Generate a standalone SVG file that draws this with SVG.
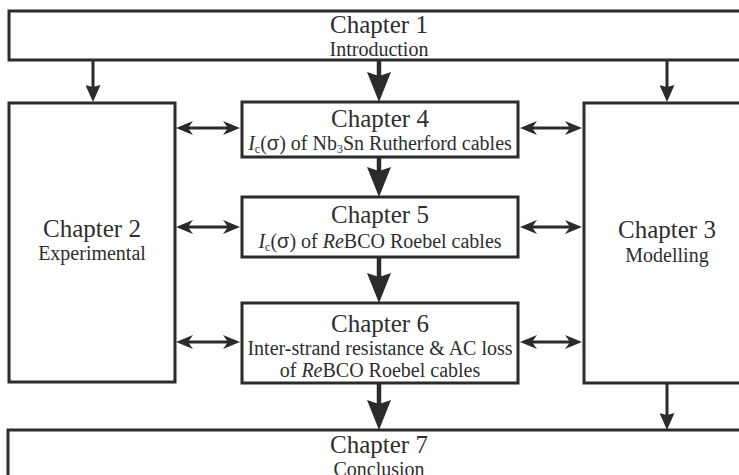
<svg xmlns="http://www.w3.org/2000/svg" width="739" height="475" viewBox="0 0 739 475">
<style>
.box{fill:#fff;stroke:#2b2b2b;stroke-width:3}
.t{font-family:"Liberation Serif","Times New Roman",serif;fill:#2e2e2e;text-anchor:middle}
.h{font-size:25px}
.s{font-size:20px}
.i{font-style:italic}
.g{font-family:"Liberation Sans",Arial,sans-serif}
.thick{stroke:#2b2b2b;stroke-width:4.5;fill:none}
.thin{stroke:#2b2b2b;stroke-width:3;fill:none}
</style>
<defs>
<marker id="big" markerUnits="userSpaceOnUse" viewBox="0 0 30 24" markerWidth="30" markerHeight="24" refX="4" refY="12" orient="auto">
<path d="M0,0 L30,12 L0,24 L4,12 z" fill="#2b2b2b"/>
</marker>
<marker id="small" markerUnits="userSpaceOnUse" viewBox="0 0 17 15" markerWidth="17" markerHeight="15" refX="3" refY="7.5" orient="auto">
<path d="M0,0 L17,7.5 L0,15 L2,7.5 z" fill="#2b2b2b"/>
</marker>
<marker id="bi" markerUnits="userSpaceOnUse" viewBox="0 0 17 14" markerWidth="17" markerHeight="14" refX="5" refY="7" orient="auto-start-reverse">
<path d="M0,0 L17,7 L0,14 L5,7 z" fill="#2b2b2b"/>
</marker>
</defs>
<rect width="739" height="475" fill="#fff"/>
<g id="connectors">
<line class="thin" x1="93" y1="61" x2="93" y2="88" marker-end="url(#small)"/>
<line class="thin" x1="667" y1="61" x2="667" y2="88" marker-end="url(#small)"/>
<line class="thin" x1="667" y1="384" x2="667" y2="416" marker-end="url(#small)"/>
<line class="thick" x1="379" y1="61" x2="379" y2="76" marker-end="url(#big)"/>
<line class="thick" x1="379" y1="158" x2="379" y2="171" marker-end="url(#big)"/>
<line class="thick" x1="379" y1="258" x2="379" y2="277" marker-end="url(#big)"/>
<line class="thick" x1="379" y1="384" x2="379" y2="404" marker-end="url(#big)"/>
<line class="thin" x1="188" y1="128" x2="228" y2="128" marker-start="url(#bi)" marker-end="url(#bi)"/>
<line class="thin" x1="532" y1="128" x2="570" y2="128" marker-start="url(#bi)" marker-end="url(#bi)"/>
<line class="thin" x1="188" y1="227" x2="228" y2="227" marker-start="url(#bi)" marker-end="url(#bi)"/>
<line class="thin" x1="532" y1="227" x2="570" y2="227" marker-start="url(#bi)" marker-end="url(#bi)"/>
<line class="thin" x1="188" y1="342" x2="228" y2="342" marker-start="url(#bi)" marker-end="url(#bi)"/>
<line class="thin" x1="532" y1="342" x2="570" y2="342" marker-start="url(#bi)" marker-end="url(#bi)"/>
</g>
<g id="ch1">
<rect class="box" x="9" y="11" width="745" height="49"/>
<text class="t h" x="379" y="33">Chapter 1</text>
<text class="t s" x="379" y="56">Introduction</text>
</g>
<g id="ch2">
<rect class="box" x="9" y="103" width="166" height="279"/>
<text class="t h" x="92" y="237">Chapter 2</text>
<text class="t s" x="92" y="260">Experimental</text>
</g>
<g id="ch3">
<rect class="box" x="584" y="103" width="170" height="280"/>
<text class="t h" x="667" y="238">Chapter 3</text>
<text class="t s" x="667" y="262">Modelling</text>
</g>
<g id="ch4">
<rect class="box" x="242" y="102" width="276" height="55"/>
<text class="t h" x="380" y="127">Chapter 4</text>
<text class="t s" x="380" y="150"><tspan class="i">I</tspan><tspan font-size="12" dy="3">c</tspan><tspan dy="-3">(</tspan><tspan class="g">σ</tspan>) of Nb<tspan font-size="12" dy="3">3</tspan><tspan dy="-3">Sn Rutherford cables</tspan></text>
</g>
<g id="ch5">
<rect class="box" x="242" y="197" width="276" height="60"/>
<text class="t h" x="380" y="223">Chapter 5</text>
<text class="t s" x="380" y="248"><tspan class="i">I</tspan><tspan font-size="12" dy="3">c</tspan><tspan dy="-3">(</tspan><tspan class="g">σ</tspan>) of <tspan class="i">Re</tspan>BCO Roebel cables</text>
</g>
<g id="ch6">
<rect class="box" x="242" y="303" width="276" height="80"/>
<text class="t h" x="380" y="332">Chapter 6</text>
<text class="t s" x="380" y="355">Inter-strand resistance &amp; AC loss</text>
<text class="t s" x="380" y="377">of <tspan class="i">Re</tspan>BCO Roebel cables</text>
</g>
<g id="ch7">
<rect class="box" x="8" y="430" width="746" height="60"/>
<text class="t h" x="379" y="453">Chapter 7</text>
<text class="t s" x="379" y="476">Conclusion</text>
</g>
</svg>
